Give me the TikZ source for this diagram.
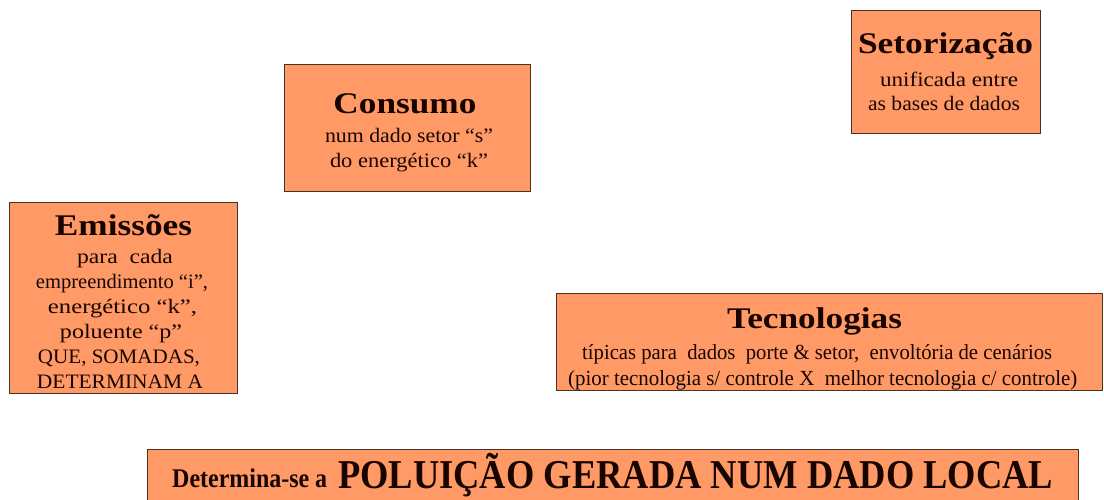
\documentclass[tikz,border=0pt]{standalone}
\usepackage{fontspec}
\setmainfont{Liberation Serif}
\usepackage{graphicx}
\definecolor{boxfill}{RGB}{255,153,102}
\definecolor{boxline}{RGB}{70,50,40}
\definecolor{ink}{RGB}{25,5,0}
\newcommand\fw[2]{\resizebox{#1pt}{\height}{#2}}
\tikzset{
  panel/.style={draw=boxline, line width=1pt, fill=boxfill, rectangle, inner sep=0pt, anchor=north west},
  ttl/.style={anchor=base, inner sep=0pt, text=ink, font=\fontsize{30}{32}\selectfont\bfseries},
  bdy/.style={anchor=base, inner sep=0pt, text=ink, font=\fontsize{20.5}{23}\selectfont},
  bdyb/.style={anchor=base west, inner sep=0pt, text=ink, font=\fontsize{21.5}{24}\selectfont},
}
\begin{document}
\begin{tikzpicture}[x=1pt,y=-1pt]
\useasboundingbox (0,0) rectangle (1104,500);
\clip (0,0) rectangle (1104,500);
% Emissoes
\node[panel, minimum width=228pt, minimum height=191pt] (emis) at (9,202) {};
\node[ttl] (emisT) at (123.5,235) {\fw{137}{Emissões}};
\node[bdy] (emis1) at (125,264) {\fw{96}{para\ \ cada}};
\node[bdy] (emis2) at (122,288) {\fw{172}{empreendimento “i”,}};
\node[bdy] (emis3) at (122.5,313) {\fw{149}{energético “k”,}};
\node[bdy] (emis4) at (121,338) {\fw{122}{poluente “p”}};
\node[bdy] (emis5) at (119,363) {\fw{162}{QUE, SOMADAS,}};
\node[bdy] (emis6) at (120,388) {\fw{166}{DETERMINAM A}};
% Consumo
\node[panel, minimum width=246pt, minimum height=127pt] (cons) at (284,64) {};
\node[ttl] (consT) at (405,114) {\fw{143}{Consumo}};
\node[bdy] (cons1) at (409,143) {\fw{168}{num dado setor “s”}};
\node[bdy] (cons2) at (409,168) {\fw{158}{do energético “k”}};
% Setorizacao
\node[panel, minimum width=189pt, minimum height=123pt] (seto) at (851,10) {};
\node[ttl] (setoT) at (945.5,54) {\fw{175}{Setorização}};
\node[bdy] (seto1) at (949,87) {\fw{138}{unificada entre}};
\node[bdy] (seto2) at (944,111) {\fw{152}{as bases de dados}};
% Tecnologias
\node[panel, minimum width=546pt, minimum height=97pt] (tecn) at (556,293) {};
\node[ttl] (tecnT) at (814.5,328) {\fw{175}{Tecnologias}};
\node[bdyb] (tecn1) at (582,359) {\fw{470}{típicas para\ \ dados\ \ porte \& setor,\ \ envoltória de cenários}};
\node[bdyb] (tecn2) at (568,385) {\fw{509}{(pior tecnologia s/ controle X\ \ melhor tecnologia c/ controle)}};
% Bottom
\node[panel, minimum width=931pt, minimum height=70pt] (polu) at (147,449) {};
\node[anchor=base west, inner sep=0pt, text=ink, font=\fontsize{27}{29}\selectfont\bfseries] (polu1) at (172,487) {\fw{155}{Determina-se a}};
\node[anchor=base west, inner sep=0pt, text=ink, font=\fontsize{41}{43}\selectfont\bfseries] (polu2) at (338,488) {\fw{715}{POLUIÇÃO GERADA NUM DADO LOCAL}};
\end{tikzpicture}
\end{document}
